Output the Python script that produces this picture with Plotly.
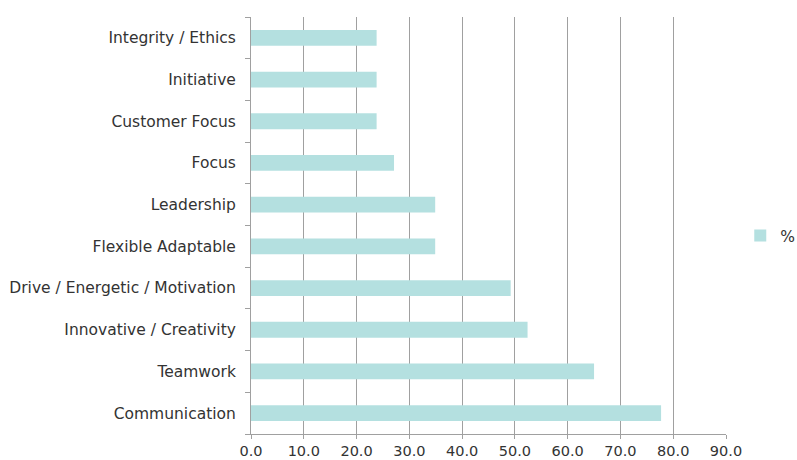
import plotly.graph_objects as go

categories = ["Communication", "Teamwork", "Innovative / Creativity",
              "Drive / Energetic / Motivation", "Flexible Adaptable", "Leadership",
              "Focus", "Customer Focus", "Initiative", "Integrity / Ethics"]
values = [77.7, 65.0, 52.4, 49.2, 34.9, 34.9, 27.1, 23.8, 23.8, 23.8]
series_name = "%"
x_ticks = [0, 10, 20, 30, 40, 50, 60, 70, 80, 90]

fig = go.Figure()
fig.add_trace(go.Bar(
    y=categories, x=values, orientation="h", name=series_name,
    marker=dict(color="#b4e0e0", line=dict(width=0)),
    showlegend=True,
))

fig.update_layout(
    width=797, height=460,
    margin=dict(l=251, r=71, t=17, b=26, autoexpand=False),
    paper_bgcolor="white", plot_bgcolor="white",
    font=dict(family="DejaVu Sans", size=15.5, color="#333333"),
    bargap=0.62,
    showlegend=True,
    legend=dict(x=1.03, xanchor="left", y=0.475, yanchor="middle",
                font=dict(size=15.5, color="#333333"),
                itemwidth=30, tracegroupgap=0, bgcolor="rgba(0,0,0,0)"),
    xaxis=dict(range=[0, 90], tickvals=x_ticks, tickformat=".1f",
               tickfont=dict(size=14.5),
               showgrid=True, gridcolor="#a0a0a0", gridwidth=1,
               showline=True, linecolor="#a0a0a0", linewidth=1,
               ticks="outside", ticklen=4, tickcolor="#a0a0a0",
               ticklabelstandoff=0,
               zeroline=False, fixedrange=True, automargin=False),
    yaxis=dict(categoryorder="array", categoryarray=categories,
               showgrid=False, showline=True, linecolor="#a0a0a0", linewidth=1,
               ticks="outside", tickson="boundaries", ticklen=5, tickcolor="#a0a0a0",
               ticklabelstandoff=11, zeroline=False, fixedrange=True, automargin=False),
)

fig.write_html("out.html")
